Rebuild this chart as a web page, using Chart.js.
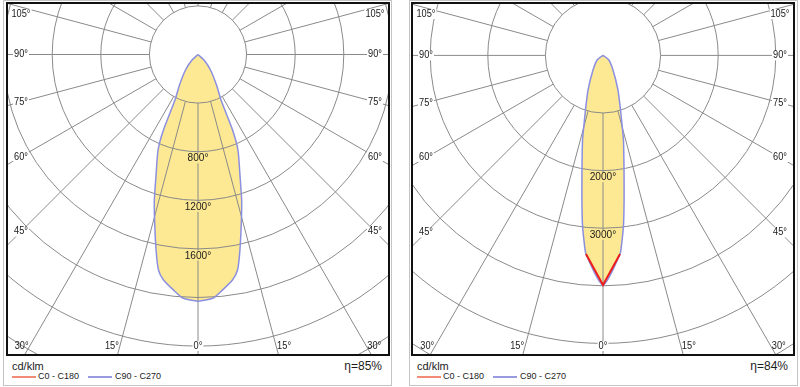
<!DOCTYPE html>
<html>
<head>
<meta charset="utf-8">
<script src="https://cdn.jsdelivr.net/npm/chart.js@4.4.1/dist/chart.umd.min.js"></script>
<style>
  html, body { margin: 0; padding: 0; background: #fff; }
  body { width: 800px; height: 387px; position: relative; overflow: hidden;
         font-family: "Liberation Sans", Arial, sans-serif; color: #1c1c1c; }
  .panel { position: absolute; top: 0; width: 389px; height: 386px; border: 1px solid #c4c4c4; box-sizing: border-box; }
  .frame { position: absolute; top: 2px; width: 384px; height: 354px; border: 2px solid #111; box-sizing: border-box; }
  .frame canvas { position: absolute; left: 0; top: 0; }
  .txt { position: absolute; white-space: nowrap; }
  .unit { font-size: 11px; line-height: 11px; top: 361px; }
  .key { position: absolute; top: 376px; height: 2px; width: 24px; }
  .keytxt { font-size: 9px; line-height: 9px; top: 372px; }
  .eta { font-size: 12px; line-height: 12px; top: 360px; width: 80px; text-align: right; }
</style>
</head>
<body>
<div class="panel" style="left:3px"></div>
<div class="panel" style="left:409px"></div>
<div class="frame" style="left:6px"><canvas id="left" width="380" height="350"></canvas></div>
<div class="frame" style="left:411px"><canvas id="right" width="380" height="350"></canvas></div>

<div class="txt unit" style="left:12px">cd/klm</div>
<div class="key" style="left:12px;background:#f28c76"></div>
<div class="txt keytxt" style="left:38px">C0 - C180</div>
<div class="key" style="left:88px;background:#9a9ae0"></div>
<div class="txt keytxt" style="left:115px">C90 - C270</div>
<div class="txt eta" style="left:302px">η=85%</div>

<div class="txt unit" style="left:417px">cd/klm</div>
<div class="key" style="left:417px;background:#f28c76"></div>
<div class="txt keytxt" style="left:443px">C0 - C180</div>
<div class="key" style="left:493px;background:#9a9ae0"></div>
<div class="txt keytxt" style="left:520px">C90 - C270</div>
<div class="txt eta" style="left:708px">η=84%</div>

<script>
// gamma = angle from the downward vertical (deg), intensity in cd/klm
const leftGamma  = [0, 3.6, 5.9, 8.7, 10.4, 12.1, 14.7, 16.7, 19.2, 22.7, 24.6, 26.8, 31.2, 38.9, 47.5, 55];
const leftC90    = [2030, 2008, 1950, 1877, 1803, 1646, 1408, 1250, 1050, 852, 683, 420, 294, 164, 67, 0];

const rightGamma = [0, 4.9, 5.9, 6.9, 8.3, 10.4, 13.6, 14.7, 17.8, 23.4, 34.4, 52.5, 65];
const rightC90   = [3986, 3460, 3222, 2965, 2536, 2022, 1511, 1338, 995, 655, 307, 124, 0];
const rightC0Gamma = [0, 4.9];
const rightC0      = [3986, 3460];

// grid rings and the rings that carry a value label
const leftRings  = [400, 800, 1200, 1600, 2000, 2400, 2800];
const leftRingLabels  = [800, 1200, 1600];
const rightRings = [1000, 2000, 3000, 4000, 5000, 6000];
const rightRingLabels = [2000, 3000];

// angle labels on the frame
const sideAngles   = [105, 90, 75, 60, 45];
const bottomAngles = [30, 15, 0];

const FILL = '#fde994';
const CURVE = '#8b8fe0';
const GRID = '#8a8a8a';
const INK = '#1a1a1a';
const rad = d => d * Math.PI / 180;

// symmetric closed outline: C90 on the right, C270 mirrored on the left
function polarPath(gamma, values) {
  const right = gamma.map((g, i) => ({ x: values[i] * Math.sin(rad(g)), y: -values[i] * Math.cos(rad(g)) }));
  const left = right.map(p => ({ x: -p.x, y: p.y }));
  return right.slice().reverse().concat(left.slice(1));
}

// the original labels use a narrow face, squeeze a little
function label(ctx, text, x, y, align, bg, sx) {
  const w = ctx.measureText(text).width * sx;
  const l = align === 'center' ? x - w / 2 : align === 'right' ? x - w : x;
  if (bg) {
    ctx.fillStyle = bg;
    ctx.fillRect(l - 1, y - 5, w + 2, 10);
  }
  ctx.save();
  ctx.translate(l, y);
  ctx.scale(sx, 1);
  ctx.textAlign = 'left';
  ctx.fillStyle = INK;
  ctx.fillText(text, 0, 0);
  ctx.restore();
}

function polarPlugin(rings, ringLabels) {
  return {
    id: 'polar',
    afterDatasetDraw(chart, args) {
      if (!chart.data.datasets[args.index].underlay) return;
      const { ctx, chartArea: a, scales: { x, y } } = chart;
      const cx = x.getPixelForValue(0), cy = y.getPixelForValue(0);
      const r = v => x.getPixelForValue(v) - cx;
      ctx.save();
      ctx.beginPath();
      ctx.rect(a.left, a.top, a.width, a.height);
      ctx.clip();
      ctx.strokeStyle = GRID;
      ctx.lineWidth = 1;
      rings.forEach(v => {
        ctx.beginPath();
        ctx.arc(cx, cy, r(v), 0, 2 * Math.PI);
        ctx.stroke();
      });
      const r0 = r(rings[0]), r1 = r(rings[rings.length - 1]) * 2;
      for (let g = 0; g < 360; g += 15) {
        ctx.beginPath();
        ctx.moveTo(cx + r0 * Math.sin(rad(g)), cy + r0 * Math.cos(rad(g)));
        ctx.lineTo(cx + r1 * Math.sin(rad(g)), cy + r1 * Math.cos(rad(g)));
        ctx.stroke();
      }
      ctx.restore();
    },
    afterDatasetsDraw(chart) {
      const { ctx, chartArea: a, scales: { x, y } } = chart;
      const cx = x.getPixelForValue(0), cy = y.getPixelForValue(0);
      ctx.save();
      ctx.textBaseline = 'middle';

      ctx.font = '11.5px "Liberation Sans", Arial, sans-serif';
      ringLabels.forEach(v => {
        const ry = y.getPixelForValue(-v);
        label(ctx, v + '°', cx, ry + 6.6, 'center', FILL, 0.88);
      });

      ctx.font = '10.5px "Liberation Sans", Arial, sans-serif';
      const side = 177;
      sideAngles.forEach(g => {
        const ly = Math.max(cy + side / Math.tan(rad(g)), a.top + 10);
        label(ctx, g + '°', cx - side, ly, 'center', '#fff', 0.88);
        label(ctx, g + '°', cx + side, ly, 'center', '#fff', 0.88);
      });
      const by = a.bottom - 8;
      bottomAngles.forEach(g => {
        if (g === 0) { label(ctx, '0°', cx, by, 'center', '#fff', 0.88); return; }
        const sx = (by - cy) * Math.tan(rad(g));
        label(ctx, g + '°', cx - sx - 1, by, 'right', null, 0.88);
        label(ctx, g + '°', cx + sx + 1, by, 'left', null, 0.88);
      });
      ctx.restore();
    }
  };
}

function makeChart(id, c) {
  const w = 380, h = 350;
  const datasets = [
    { data: polarPath(c.gamma, c.values), showLine: true, fill: false, tension: 0.2,
      borderColor: CURVE, borderWidth: 1.5, pointRadius: 0, order: 1 },
    { data: polarPath(c.gamma, c.values), showLine: true, fill: 'shape', tension: 0.2, underlay: true,
      backgroundColor: FILL, borderColor: 'rgba(0,0,0,0)', borderWidth: 1, pointRadius: 0, order: 5 }
  ];
  if (c.c0) {
    datasets.unshift({ data: polarPath(c.c0Gamma, c.c0), showLine: true, fill: false, tension: 0,
      borderColor: '#ee1c1c', borderWidth: 2, pointRadius: 0, order: 0 });
  }
  return new Chart(document.getElementById(id), {
    type: 'scatter',
    data: { datasets },
    options: {
      responsive: false,
      animation: false,
      devicePixelRatio: 1,
      events: [],
      layout: { padding: 0 },
      plugins: { legend: { display: false }, tooltip: { enabled: false } },
      scales: {
        x: { type: 'linear', display: false, min: -c.cx / c.ppu, max: (w - c.cx) / c.ppu },
        y: { type: 'linear', display: false, min: -(h - c.cy) / c.ppu, max: c.cy / c.ppu }
      }
    },
    plugins: [polarPlugin(c.rings, c.ringLabels)]
  });
}

makeChart('left', { gamma: leftGamma, values: leftC90, rings: leftRings, ringLabels: leftRingLabels,
  cx: 190, cy: 50.5, ppu: 48.6 / 400 });
makeChart('right', { gamma: rightGamma, values: rightC90, rings: rightRings, ringLabels: rightRingLabels,
  c0Gamma: rightC0Gamma, c0: rightC0, cx: 190, cy: 51.4, ppu: 57.6 / 1000 });
</script>
</body>
</html>
